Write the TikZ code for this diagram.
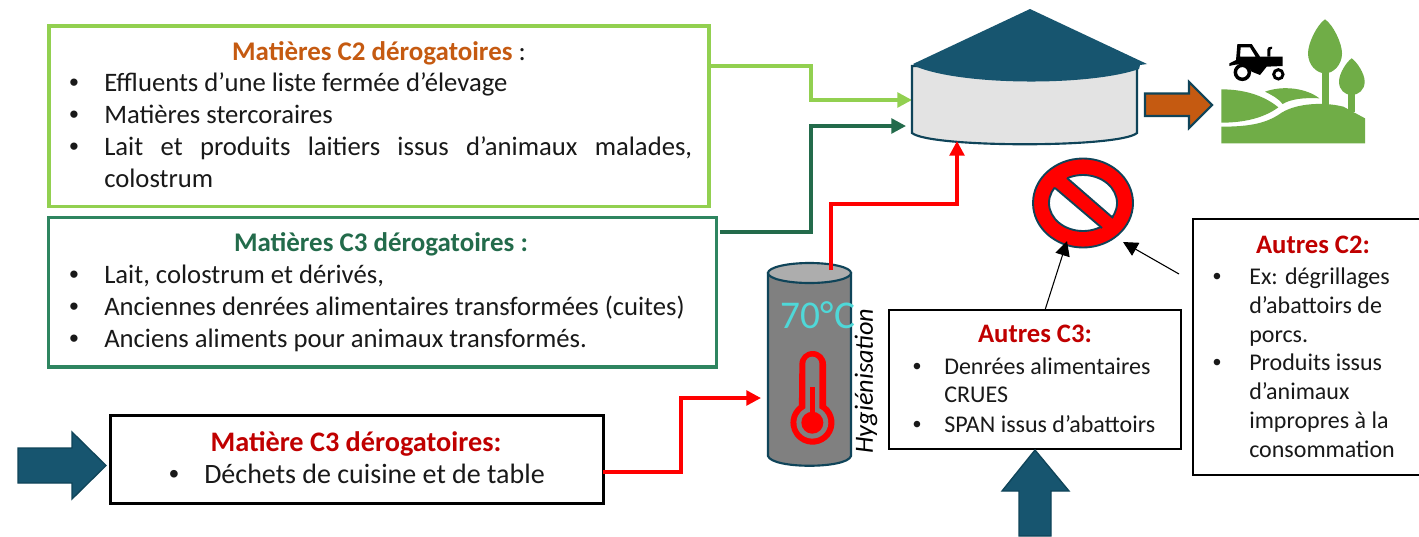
\documentclass[tikz,border=0pt]{standalone}
\usepackage{fontspec}
\setmainfont{Carlito}
\newfontfamily\bulfont{Liberation Sans}
\usetikzlibrary{arrows.meta}
\definecolor{lgreen}{HTML}{92D050}
\definecolor{dgreen}{HTML}{2E8560}
\definecolor{dgarrow}{HTML}{236B4B}
\definecolor{teal}{HTML}{17556F}
\definecolor{dteal}{HTML}{0F4459}
\definecolor{orng}{HTML}{C55A11}
\definecolor{dred}{HTML}{C00000}
\definecolor{farm}{HTML}{70AD47}
\definecolor{cyan70}{HTML}{4FD8D8}
\tikzset{
  x=.75pt,y=-.75pt,
  box/.style={draw,fill=white,line width=#1,inner sep=0,minimum width=0},
  txt/.style={anchor=base west,inner sep=0,font=\fontsize{20}{24}\selectfont,text=black!90},
  txts/.style={txt,font=\fontsize{18}{21}\selectfont},
  txtb/.style={txt,font=\fontsize{21}{25}\selectfont},
  ttl/.style={anchor=base,inner sep=0,font=\fontsize{20.2}{24}\selectfont\bfseries},
  ttls/.style={ttl,font=\fontsize{20}{24}\selectfont\bfseries},
  conn/.style={line width=2.6pt,-{Triangle[length=11pt,width=11pt]}},
  thin arrow/.style={line width=.8pt,-{Triangle[length=11pt,width=11pt]}},
  blockarrow/.style={fill=teal,draw=dteal,line width=1pt},
}
\newcommand\bitem[6][txt]{%
  \node[#1,anchor=base] (#2b) at (#3,#5) {\bulfont •};
  \node[#1] (#2) at (#4,#5) {#6};}
\begin{document}
\begin{tikzpicture}
\useasboundingbox (0,0) rectangle (1419,536);
\fill[white] (0,0) rectangle (1419,536);
\coordinate (c2out) at (708,66);
\coordinate (c3out) at (720,232);
\coordinate (kout) at (603,472);
\coordinate (tankA) at (912,100);
\coordinate (tankB) at (906,126);
\coordinate (tankC) at (957,141);
\coordinate (cylIn) at (761,398);
\coordinate (cylOut) at (831,270);
% boxes
\node[box=2.8pt,draw=lgreen,minimum width=495pt,minimum height=135.5pt,anchor=north west] (c2box) at (47,24) {};
\node[box=2.6pt,draw=dgreen,minimum width=501pt,minimum height=112pt,anchor=north west] (c3box) at (47,216) {};
\node[box=2.4pt,draw=black,minimum width=369.5pt,minimum height=66pt,anchor=north west] (kbox) at (109,414) {};
\node[box=1.5pt,draw=black,minimum width=219pt,minimum height=104pt,anchor=north west] (a3box) at (888,309) {};
\node[box=1.5pt,draw=black,minimum width=180pt,minimum height=192pt,anchor=north west] (a2box) at (1192,218) {};
% C2 text
\node[ttl,text=orng] (t2) at (379,60) {Matières C2 dérogatoires\textcolor{black!90}{\mdseries\ :}};
\bitem{c2a}{74}{104}{91}{Effluents d’une liste fermée d’élevage}
\bitem{c2b}{74}{104}{123}{Matières stercoraires}
\bitem{c2c}{74}{104}{155}{\makebox[441pt][s]{Lait et produits laitiers issus d’animaux malades,}}
\node[txt] (c2e) at (104,187) {colostrum};
% C3 text
\node[ttl,text=dgarrow] (t3) at (381,251) {Matières C3 dérogatoires :};
\bitem{c3a}{74}{104}{283}{Lait, colostrum et dérivés,}
\bitem{c3b}{74}{104}{315}{Anciennes denrées alimentaires transformées (cuites)}
\bitem{c3c}{74}{104}{347}{Anciens aliments pour animaux transformés.}
% kitchen
\node[ttl,text=dred,font=\fontsize{21.2}{25}\selectfont\bfseries] (tk) at (356,451) {Matière C3 dérogatoires:};
\bitem[txtb]{ka}{174}{204}{483}{Déchets de cuisine et de table}
% autres C3
\node[ttls,text=dred] (ta3) at (1035,342) {Autres C3:};
\bitem[txts]{a3a}{917}{944}{374}{Denrées alimentaires}
\node[txts] (a3a2) at (944,402) {CRUES};
\bitem[txts]{a3b}{917}{944}{432}{SPAN issus d’abattoirs}
% autres C2
\node[ttls,text=dred] (ta2) at (1313,253) {Autres C2:};
\bitem[txts]{a2a}{1217}{1249}{284}{Ex: dégrillages}
\node[txts] (a2a2) at (1249,313) {d’abattoirs de};
\node[txts] (a2a3) at (1249,342) {porcs.};
\bitem[txts]{a2b}{1217}{1249}{370}{Produits issus}
\node[txts] (a2b2) at (1249,399) {d’animaux};
\node[txts] (a2b3) at (1249,428) {impropres à la};
\node[txts] (a2b4) at (1249,457) {consommation};
% connectors
\draw[conn,draw=lgreen] (c2out) -- (811,66) -- (811,100) -- (tankA);
\draw[conn,draw=dgarrow] (c3out) -- (811,232) -- (811,126) -- (tankB);
\draw[conn,draw=red] (kout) -- (681,472) -- (681,398) -- (cylIn);
% tank
\path[fill=black!11,draw=dteal,line width=1.6pt] (912,66) -- (912,133) .. controls (930,148) and (1120,148) .. (1137,133) -- (1137,66) -- cycle;
\fill[teal] (1030,9) -- (1147,64) -- (1140,65) -- (1139,69) .. controls (1090,86) and (965,86) .. (917,67) -- (913,64) -- cycle;
% cylinder
\path[fill=black!50,draw=dteal,line width=1.6pt] (768,273) -- (768,456) .. controls (772,469) and (847,469) .. (851,456) -- (851,273) -- cycle;
\path[fill=black!32,draw=dteal,line width=1.6pt] (809.5,273) ellipse [x radius=41.5,y radius=10];
\draw[line width=2.6pt,draw=red,-{Triangle[length=11pt,width=11pt]}] (cylOut) -- (831,204) -- (957,204) -- (tankC);
% thermometer
\begin{scope}[shift={(700,240)},x=.25pt,y=-.25pt]
\path[fill=red] (298,373) arc[start angle=180,end angle=360,radius=40] -- (378,496) arc[start angle=-52,end angle=232,radius=66] -- cycle;
\path[fill=black!50] (316,371) arc[start angle=180,end angle=360,radius=21] -- (358,505) arc[start angle=-64,end angle=244,radius=47.8] -- cycle;
\fill[red] (331,441) rectangle (344,530);
\fill[red] (337,548) circle[radius=33];
\end{scope}
\node[anchor=base,inner sep=0,text=cyan70,font=\fontsize{29.5}{33}\selectfont] (temp) at (818,328) {70°C};
\node[anchor=center,rotate=90,inner sep=0,font=\fontsize{19.7}{24}\selectfont\itshape] (hyg) at (866,381) {Hygiénisation};
% orange arrow
\path[fill=orng,draw=dteal,line width=1.6pt] (1145,93.5) -- (1189,93.5) -- (1189,82) -- (1212,105) -- (1189,128) -- (1189,116) -- (1145,116) -- cycle;
% block arrows
\path[blockarrow] (18,448) -- (72,448) -- (72,432) -- (106,465.5) -- (72,499) -- (72,483) -- (18,483) -- cycle;
\path[blockarrow] (1019,536) -- (1019,491) -- (1002,491) -- (1035,450) -- (1069,491) -- (1051,491) -- (1051,536) -- cycle;
% forbidden sign
\path[fill=red,draw=dteal,line width=1.4pt] (1083,203) ellipse [x radius=50,y radius=44.5];
\path[fill=white,draw=dteal,line width=1.4pt] (1083,203) ellipse [x radius=34,y radius=28];
\fill[red] (1063,174) -- (1117,221) -- (1106,232) -- (1051,184) -- cycle;
\draw[dteal,line width=1.4pt] (1067,178) -- (1113,218) (1055,188) -- (1102,228);
% black arrows
\coordinate (signA) at (1067,241);
\coordinate (signB) at (1123,242);
\coordinate (a3top) at (1045,310);
\coordinate (a2side) at (1179,274);
\draw[thin arrow] (a3top) -- (signA);
\draw[thin arrow] (a2side) -- (signB);
% landscape
\begin{scope}[shift={(1210,10)},x=.25pt,y=-.25pt]
\fill[farm] (34,350) .. controls (120,350) and (170,340) .. (215,308) .. controls (260,280) and (340,275) .. (400,290) -- (465,325) -- (465,400) -- (34,400) -- cycle;
\fill[farm] (34,238) .. controls (100,238) and (160,255) .. (205,292) .. controls (160,325) and (100,338) .. (34,338) -- cycle;
\fill[farm] (165,245) .. controls (220,225) and (290,235) .. (328,265) .. controls (280,262) and (240,268) .. (218,282) .. controls (205,265) and (185,255) .. (165,245) -- cycle;
\fill[farm] (337,175) rectangle (356,285);
\fill[farm] (345,28) .. controls (370,45) and (396,100) .. (396,130) .. controls (396,165) and (370,190) .. (345,190) .. controls (320,190) and (294,165) .. (294,130) .. controls (294,100) and (320,45) .. (345,28) -- cycle;
\fill[farm] (415,240) rectangle (435,305);
\fill[farm] (425,145) .. controls (440,155) and (464,190) .. (464,215) .. controls (464,240) and (445,255) .. (425,255) .. controls (405,255) and (387,240) .. (387,215) .. controls (387,190) and (410,155) .. (425,145) -- cycle;
% tractor
\path[fill=black,even odd rule] (82,102) -- (125,102) -- (150,140) -- (218,140) -- (218,168) -- (170,170) -- (150,195) -- (125,185) .. controls (110,160) and (85,160) .. (58,168) -- (58,160) -- (78,150) -- cycle (92,112) -- (90,140) -- (137,140) -- (120,112) -- cycle;
\fill[black] (172,140) -- (172,118) .. controls (172,112) and (178,110) .. (186,110) -- (186,116) .. controls (182,116) and (181,118) .. (181,122) -- (181,140) -- cycle;
\path[fill=white,draw=black,line width=2.6pt] (97,187) circle[radius=21];
\path[fill=white,draw=black,line width=2.2pt] (205,193) circle[radius=14];
\end{scope}
\end{tikzpicture}
\end{document}
